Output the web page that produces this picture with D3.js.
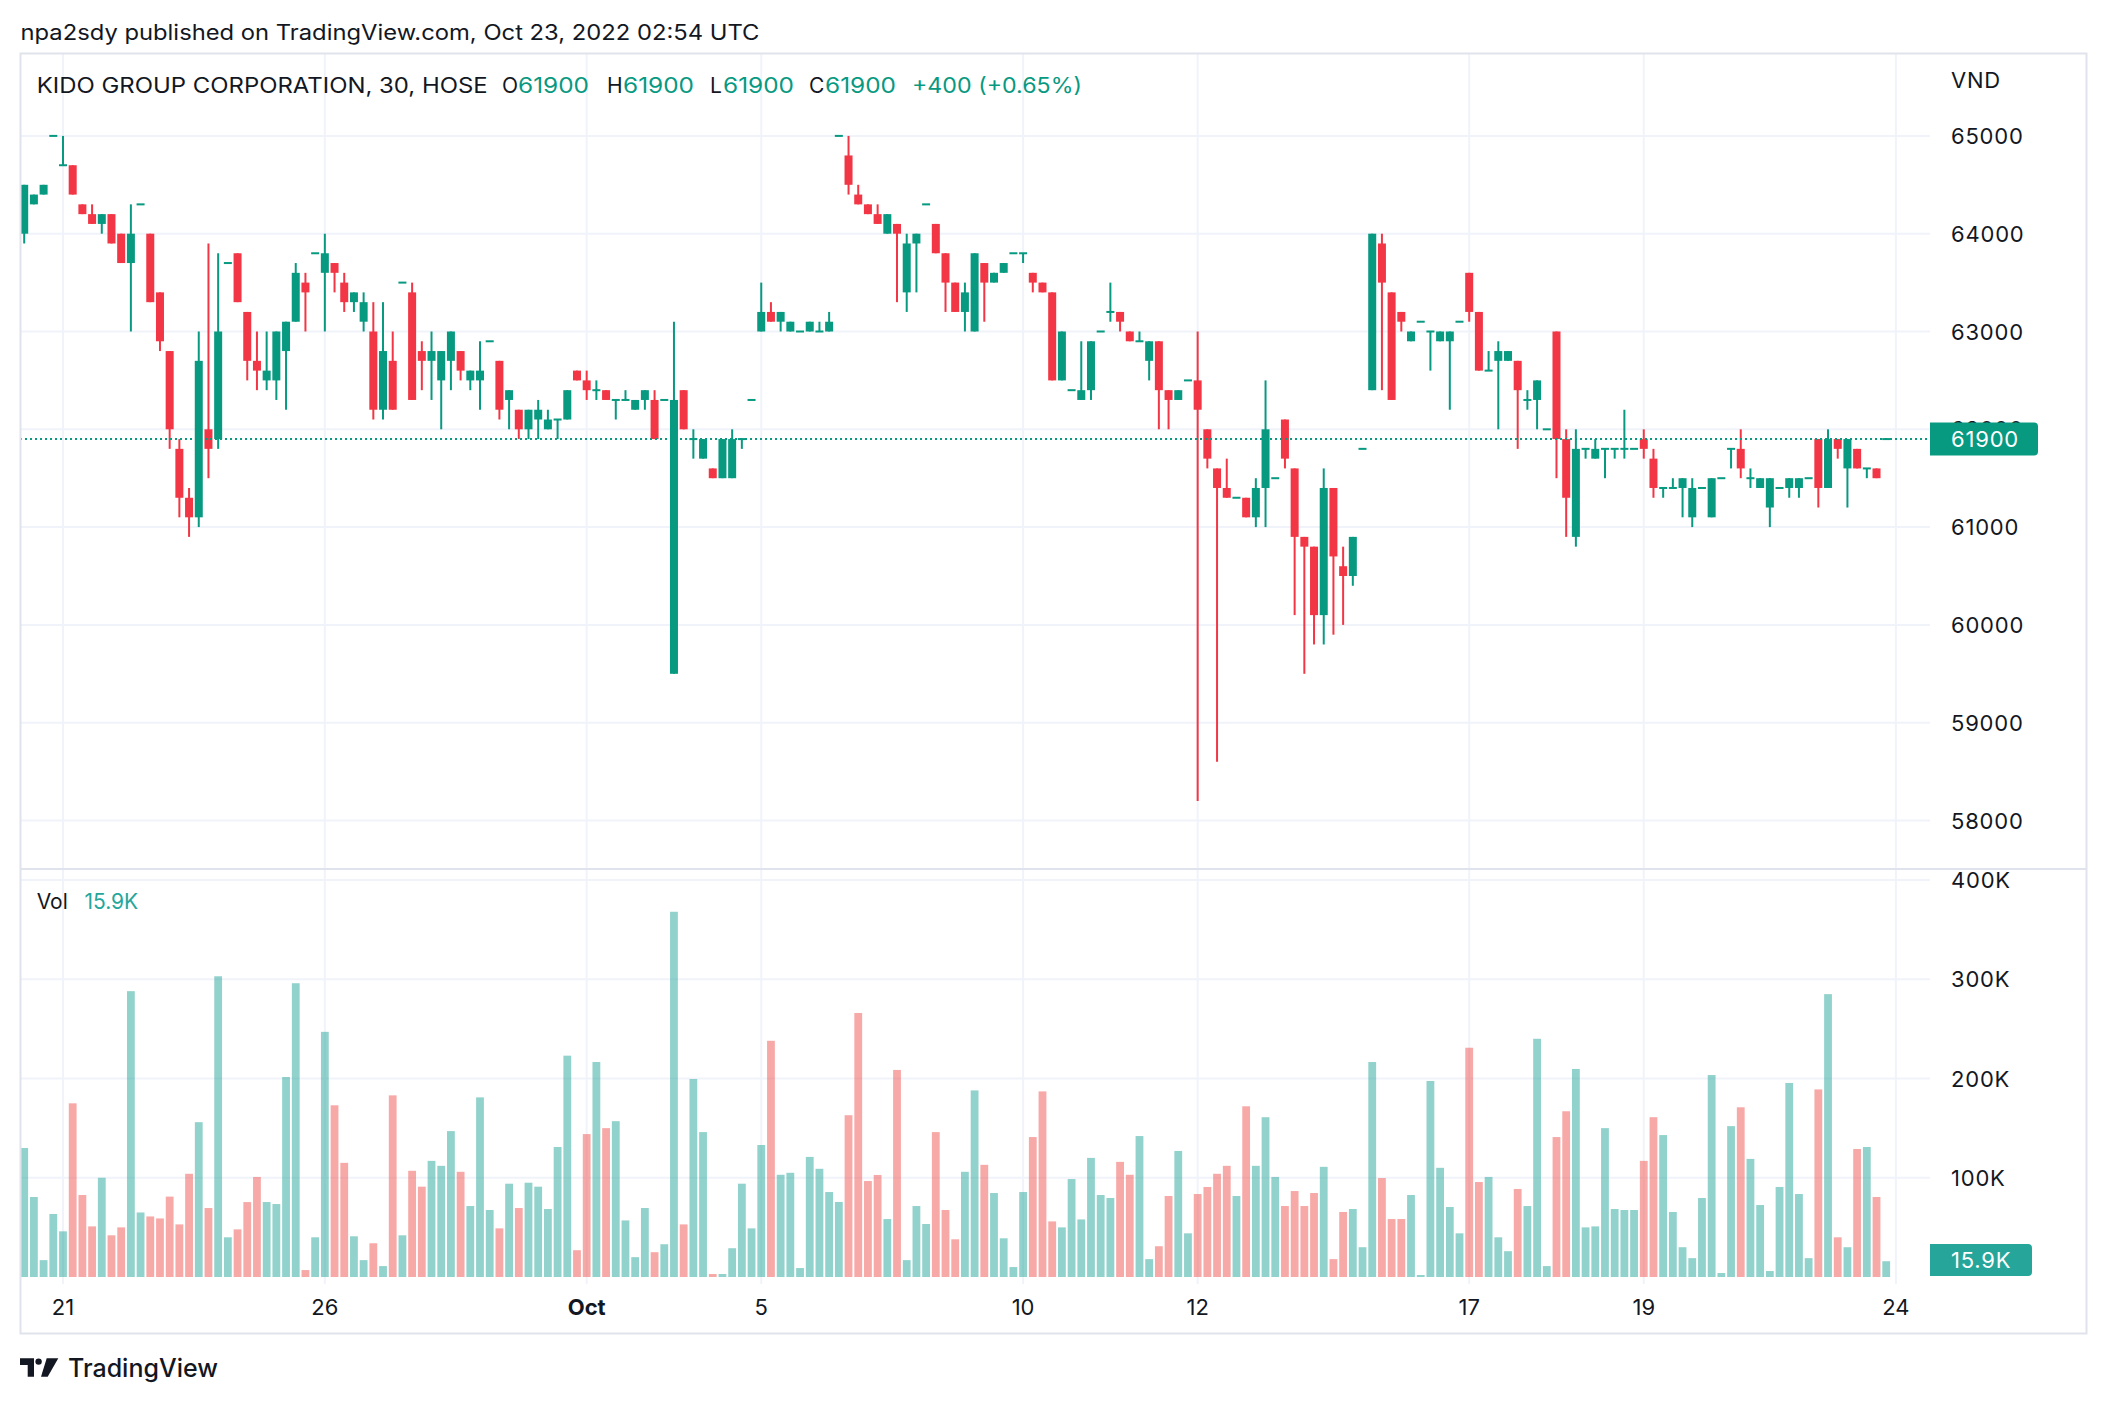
<!DOCTYPE html>
<html>
<head>
<meta charset="utf-8">
<script src="https://cdn.jsdelivr.net/npm/d3@7"></script>
<style>
  html, body { margin: 0; padding: 0; background: #fff; }
  svg { display: block; }
  text { font-family: Inter, "Noto Sans", sans-serif; fill: #131722; }
</style>
</head>
<body>
<svg id="chart" width="2106" height="1404"></svg>
<script>
(function () {
  "use strict";

  // KIDO (KDC) 30-minute bars, Sep 20 - Oct 21 2022
  const opens = [
    64000, 64300, 64400, 65000, 64700, 64700, 64300, 64200, 64100, 64200, 64000, 63700, 64300, 64000, 63400, 62800, 61800, 61300, 61100, 62000,
    61900, 63700, 63800, 63200, 62700, 62500, 62500, 62800, 63100, 63500, 63800, 63600, 63700, 63500, 63300, 63100, 63000, 62200, 62700, 63500,
    63400, 62800, 62700, 62500, 62700, 62800, 62500, 62500, 62900, 62700, 62300, 62200, 62000, 62100, 62000, 62100, 62100, 62600, 62500, 62400,
    62400, 62300, 62300, 62200, 62300, 62300, 62300, 59500, 62400, 61900, 61700, 61600, 61500, 61500, 61900, 62300, 63000, 63200, 63100, 63000,
    63000, 63000, 63000, 63000, 65000, 64800, 64400, 64300, 64200, 64000, 64100, 63400, 63900, 64300, 64100, 63800, 63500, 63200, 63000, 63700,
    63500, 63600, 63800, 63800, 63600, 63500, 63400, 62500, 62400, 62300, 62400, 63000, 63200, 63200, 63000, 62900, 62700, 62900, 62400, 62300,
    62500, 62500, 62000, 61600, 61400, 61300, 61300, 61100, 61400, 61500, 62100, 61600, 60900, 60800, 60100, 61400, 60600, 60500, 61800, 62400,
    63900, 63400, 63200, 62900, 63100, 63000, 62900, 62900, 63100, 63600, 63200, 62600, 62700, 62700, 62700, 62300, 62300, 62000, 63000, 61900,
    60900, 61800, 61700, 61800, 61800, 61800, 61800, 61900, 61700, 61400, 61400, 61400, 61100, 61400, 61100, 61500, 61800, 61800, 61500, 61400,
    61200, 61400, 61400, 61400, 61500, 61900, 61400, 61900, 61600, 61800, 61600, 61600, 61900
  ];
  const highs = [
    64500, 64400, 64500, 65000, 65000, 64700, 64300, 64300, 64200, 64200, 64000, 64300, 64300, 64000, 63400, 62800, 61900, 61400, 63000, 63900,
    63800, 63700, 63800, 63200, 63000, 63000, 63000, 63100, 63700, 63600, 63800, 64000, 63700, 63600, 63400, 63400, 63300, 63300, 63000, 63500,
    63500, 62900, 63000, 62800, 63000, 62800, 62600, 62900, 62900, 62700, 62400, 62200, 62200, 62300, 62200, 62100, 62400, 62600, 62600, 62500,
    62400, 62300, 62400, 62300, 62400, 62400, 62300, 63100, 62400, 62000, 61900, 61600, 61900, 62000, 61900, 62300, 63500, 63300, 63200, 63100,
    63000, 63100, 63100, 63200, 65000, 65000, 64500, 64300, 64300, 64200, 64100, 64000, 64000, 64300, 64100, 63800, 63500, 63500, 63800, 63700,
    63600, 63700, 63800, 63800, 63600, 63500, 63400, 63000, 62400, 62900, 62900, 63000, 63500, 63200, 63000, 63000, 62900, 62900, 62400, 62400,
    62500, 63000, 62000, 61600, 61700, 61300, 61300, 61500, 62500, 61500, 62100, 61600, 60900, 60800, 61600, 61400, 60800, 60900, 61800, 64000,
    64000, 63400, 63200, 63000, 63100, 63000, 63000, 63000, 63100, 63600, 63200, 62800, 62900, 62800, 62700, 62400, 62500, 62000, 63000, 62000,
    62000, 61800, 61900, 61800, 61800, 62200, 61800, 62000, 61800, 61400, 61500, 61500, 61500, 61400, 61500, 61500, 61800, 62000, 61600, 61500,
    61500, 61400, 61500, 61500, 61500, 61900, 62000, 61900, 61900, 61800, 61600, 61600, 61900
  ];
  const lows = [
    63900, 64300, 64400, 65000, 64700, 64400, 64200, 64100, 64000, 63900, 63700, 63000, 64300, 63300, 62800, 61800, 61100, 60900, 61000, 61500,
    61800, 63700, 63300, 62500, 62400, 62400, 62300, 62200, 63100, 63000, 63800, 63000, 63400, 63200, 63200, 63000, 62100, 62100, 62200, 63500,
    62300, 62400, 62300, 62000, 62400, 62500, 62400, 62200, 62900, 62100, 62000, 61900, 61900, 61900, 62000, 61900, 62100, 62500, 62300, 62300,
    62300, 62100, 62300, 62200, 62200, 61900, 62300, 59500, 62000, 61700, 61700, 61500, 61500, 61500, 61800, 62300, 63000, 63100, 63000, 63000,
    63000, 63000, 63000, 63000, 65000, 64400, 64300, 64200, 64100, 64000, 63300, 63200, 63400, 64300, 63800, 63200, 63200, 63000, 63000, 63100,
    63500, 63600, 63800, 63700, 63400, 63400, 62500, 62500, 62400, 62300, 62300, 63000, 63100, 63000, 62900, 62900, 62500, 62000, 62000, 62300,
    62500, 58200, 61600, 58600, 61300, 61300, 61100, 61000, 61000, 61500, 61600, 60100, 59500, 59800, 59800, 59900, 60000, 60400, 61800, 62400,
    62400, 62300, 63000, 62900, 63100, 62600, 62900, 62200, 63100, 63100, 62600, 62600, 62000, 62700, 61800, 62200, 62000, 62000, 61500, 60900,
    60800, 61700, 61700, 61500, 61700, 61700, 61800, 61700, 61300, 61300, 61400, 61100, 61000, 61400, 61100, 61500, 61600, 61500, 61400, 61400,
    61000, 61400, 61300, 61300, 61500, 61200, 61400, 61700, 61200, 61600, 61500, 61500, 61900
  ];
  const closes = [
    64500, 64400, 64500, 65000, 64700, 64400, 64200, 64100, 64200, 63900, 63700, 64000, 64300, 63300, 62900, 62000, 61300, 61100, 62700, 61800,
    63000, 63700, 63300, 62700, 62600, 62600, 63000, 63100, 63600, 63400, 63800, 63800, 63600, 63300, 63400, 63300, 62200, 62800, 62200, 63500,
    62300, 62700, 62800, 62800, 63000, 62600, 62600, 62600, 62900, 62200, 62400, 62000, 62200, 62200, 62100, 62100, 62400, 62500, 62400, 62400,
    62300, 62300, 62300, 62300, 62400, 61900, 62300, 62300, 62000, 61900, 61900, 61500, 61900, 61900, 61900, 62300, 63200, 63100, 63200, 63100,
    63000, 63100, 63000, 63100, 65000, 64500, 64300, 64200, 64100, 64200, 64000, 63900, 64000, 64300, 63800, 63500, 63200, 63400, 63800, 63500,
    63600, 63700, 63800, 63800, 63500, 63400, 62500, 63000, 62400, 62400, 62900, 63000, 63200, 63100, 62900, 62900, 62900, 62400, 62300, 62400,
    62500, 62200, 61700, 61400, 61300, 61300, 61100, 61400, 62000, 61500, 61700, 60900, 60800, 60100, 61400, 60700, 60500, 60900, 61800, 64000,
    63500, 62300, 63100, 63000, 63100, 63000, 63000, 63000, 63100, 63200, 62600, 62600, 62800, 62800, 62400, 62300, 62500, 62000, 61900, 61300,
    61800, 61800, 61800, 61800, 61800, 61800, 61800, 61800, 61400, 61400, 61400, 61500, 61400, 61400, 61500, 61500, 61800, 61600, 61500, 61500,
    61500, 61400, 61500, 61500, 61500, 61400, 61900, 61800, 61900, 61600, 61600, 61500, 61900
  ];
  // volume, thousands of shares
  const volumes = [
    130, 80.6, 17, 63.5, 46, 175, 82.6, 51, 100, 42, 50, 288, 65, 61, 59, 81, 53, 104, 156, 69.5,
    303, 40, 48, 75.5, 100.8, 75.5, 73.5, 201.5, 296, 7, 40, 247, 173, 115, 41, 17, 34, 11, 183, 42,
    107, 91, 117, 112, 147, 106, 71.5, 181, 67.5, 49, 94, 69.5, 95, 91, 68.5, 131, 223, 27, 144, 216.6,
    150, 157, 57, 20, 69.5, 25, 33, 368, 53, 199.5, 146, 3, 3, 29, 94, 49, 133, 238, 103, 105,
    9, 121, 109, 85.6, 75.6, 163, 266, 96.7, 102.8, 58.4, 208.6, 17, 71.5, 53.4, 146, 67.5, 38, 106, 188, 113,
    84.6, 39, 10, 85.6, 141, 187, 56, 50, 98.7, 58, 120, 82.6, 79.6, 116, 103, 142, 18, 31, 81.6, 127,
    44, 83.6, 90.7, 104, 112, 81.6, 172, 112, 161, 100.8, 71.5, 86.6, 71.5, 84.6, 111, 18, 65.5, 68.5, 30, 216.6,
    99.7, 58.4, 58.4, 82.6, 2, 197.5, 110, 70.5, 44, 231, 95.7, 100.8, 40, 26, 88.7, 71.5, 240, 11, 141, 167,
    209.6, 50, 51, 150, 68.5, 67.5, 67.5, 117, 161, 143, 65.5, 30, 19, 79.6, 203.5, 4, 152, 171, 119, 72.5,
    6, 90.7, 195.5, 83.6, 19, 189, 285, 40, 30, 129, 131, 80.6, 15.9
  ];

  const priceTicks = [65000, 64000, 63000, 62000, 61000, 60000, 59000, 58000];
  const volumeTicks = [400000, 300000, 200000, 100000];
  const volumeTickLabels = ["400K", "300K", "200K", "100K"];
  const dayTickIndex = [4, 31, 58, 76, 103, 121, 149, 167, 193];
  const dayTickLabel = ["21", "26", "Oct", "5", "10", "12", "17", "19", "24"];
  const lastPrice = 61900;
  const lastVolumeLabel = "15.9K";

  const UP = "#089981", DOWN = "#f23645";
  const VOL_UP = "rgba(38,166,154,0.5)", VOL_DOWN = "rgba(239,83,80,0.5)";
  const GRID = "#f0f3fa", BORDER = "#e0e3eb";

  const left = 20, plotRight = 1930, frameRight = 2086;
  const top = 54, sep = 869, volBottom = 1284, frameBottom = 1334;
  const axisX = 1951;

  const bars = opens.map((o, i) => ({
    i, o, h: highs[i], l: lows[i], c: closes[i], v: volumes[i] * 1000, up: closes[i] >= o
  }));

  const x = d3.scaleLinear().domain([0, 193]).range([24.2, 24.2 + 9.698 * 193]);
  const y = d3.scaleLinear().domain([58000, 65000]).range([820.5, 135.9]);
  const yv = d3.scaleLinear().domain([0, 400000]).range([1277, 880]);

  const svg = d3.select("#chart");
  svg.append("rect").attr("width", 2106).attr("height", 1404).attr("fill", "#fff");

  // grid
  const grid = svg.append("g").attr("stroke", GRID).attr("stroke-width", 2);
  grid.selectAll("line.hp").data(priceTicks).join("line")
    .attr("x1", left).attr("x2", plotRight)
    .attr("y1", (d) => y(d)).attr("y2", (d) => y(d));
  grid.selectAll("line.hv").data(volumeTicks).join("line")
    .attr("x1", left).attr("x2", plotRight)
    .attr("y1", (d) => yv(d)).attr("y2", (d) => yv(d));
  grid.selectAll("line.vt").data(dayTickIndex).join("line")
    .attr("x1", (d) => x(d)).attr("x2", (d) => x(d))
    .attr("y1", top).attr("y2", volBottom);

  // volume bars
  svg.append("g").selectAll("rect").data(bars).join("rect")
    .attr("x", (d) => x(d.i) - 3.9).attr("width", 7.8)
    .attr("y", (d) => yv(d.v)).attr("height", (d) => yv(0) - yv(d.v))
    .attr("fill", (d) => (d.up ? VOL_UP : VOL_DOWN));

  // candles
  const candles = svg.append("g").selectAll("g").data(bars).join("g");
  candles.append("line")
    .attr("x1", (d) => x(d.i)).attr("x2", (d) => x(d.i))
    .attr("y1", (d) => y(d.h)).attr("y2", (d) => y(d.l))
    .attr("stroke", (d) => (d.up ? UP : DOWN)).attr("stroke-width", 2);
  candles.append("rect")
    .attr("x", (d) => x(d.i) - 4).attr("width", 8)
    .attr("y", (d) => Math.min(y(d.o), y(d.c)) - (d.o === d.c ? 1 : 0))
    .attr("height", (d) => Math.max(2, Math.abs(y(d.o) - y(d.c))))
    .attr("fill", (d) => (d.up ? UP : DOWN));

  // last price line
  svg.append("line")
    .attr("x1", left).attr("x2", plotRight)
    .attr("y1", y(lastPrice)).attr("y2", y(lastPrice))
    .attr("stroke", UP).attr("stroke-width", 2).attr("stroke-dasharray", "2,3");

  // frame and pane separator
  svg.append("rect")
    .attr("x", left + 0.5).attr("y", top - 0.5)
    .attr("width", frameRight - left).attr("height", frameBottom - top)
    .attr("fill", "none").attr("stroke", BORDER).attr("stroke-width", 2);
  svg.append("line").attr("x1", left).attr("x2", frameRight)
    .attr("y1", sep).attr("y2", sep).attr("stroke", BORDER).attr("stroke-width", 2);

  // price axis (62000 sits mostly under the last-price tag, as in the original)
  const axisFont = 22;
  const pAxis = svg.append("g").attr("font-size", axisFont).attr("letter-spacing", 0.8);
  pAxis.selectAll("text").data(priceTicks).join("text")
    .attr("x", axisX).attr("y", (d) => y(d) + 8).text((d) => d);
  pAxis.append("text").attr("x", axisX).attr("y", 88).text("VND");

  const vAxis = svg.append("g").attr("font-size", axisFont).attr("letter-spacing", 0.8);
  vAxis.selectAll("text").data(volumeTicks).join("text")
    .attr("x", axisX).attr("y", (d) => yv(d) + 8)
    .text((d, i) => volumeTickLabels[i]);

  function tagPath(x0, y0, w, h, r) {
    return `M${x0},${y0}H${x0 + w - r}Q${x0 + w},${y0} ${x0 + w},${y0 + r}V${y0 + h - r}Q${x0 + w},${y0 + h} ${x0 + w - r},${y0 + h}H${x0}Z`;
  }
  const py = y(lastPrice);
  svg.append("path").attr("d", tagPath(plotRight, py - 16.5, 108, 33, 4)).attr("fill", UP);
  svg.append("text").attr("x", axisX).attr("y", py + 8).attr("font-size", axisFont)
    .attr("letter-spacing", 0.8).style("fill", "#fff").text(lastPrice);

  svg.append("path").attr("d", tagPath(plotRight, 1244, 102, 32, 4)).attr("fill", "#26a69a");
  svg.append("text").attr("x", axisX).attr("y", 1244 + 24).attr("font-size", axisFont)
    .attr("letter-spacing", 0.8).style("fill", "#fff").text(lastVolumeLabel);

  // time axis
  svg.append("g").attr("font-size", 22).attr("text-anchor", "middle")
    .selectAll("text").data(dayTickIndex).join("text")
    .attr("x", (d) => x(d)).attr("y", 1315)
    .attr("font-weight", (d, i) => (dayTickLabel[i] === "Oct" ? 700 : 400))
    .text((d, i) => dayTickLabel[i]);

  // header and legends
  svg.append("text").attr("x", 20.5).attr("y", 40).attr("font-size", 21)
    .attr("textLength", 739).attr("lengthAdjust", "spacingAndGlyphs")
    .text("npa2sdy published on TradingView.com, Oct 23, 2022 02:54 UTC");

  const legend = svg.append("g").attr("font-size", 21);
  legend.append("text").attr("x", 36.7).attr("y", 93)
    .attr("textLength", 451).attr("lengthAdjust", "spacingAndGlyphs")
    .text("KIDO GROUP CORPORATION, 30, HOSE");
  const ohlc = [["O", 502, 518], ["H", 607, 623], ["L", 710, 723], ["C", 809, 825]];
  ohlc.forEach(([k, kx, vx]) => {
    legend.append("text").attr("x", kx).attr("y", 93).text(k);
    legend.append("text").attr("x", vx).attr("y", 93).attr("textLength", 71)
      .attr("lengthAdjust", "spacingAndGlyphs").style("fill", UP).text(lastPrice);
  });
  legend.append("text").attr("x", 912).attr("y", 93).attr("textLength", 170)
    .attr("lengthAdjust", "spacingAndGlyphs").style("fill", UP).text("+400 (+0.65%)");

  const volLegend = svg.append("g").attr("font-size", 21);
  volLegend.append("text").attr("x", 36.7).attr("y", 909).text("Vol");
  volLegend.append("text").attr("x", 84.4).attr("y", 909).style("fill", "#26a69a").text(lastVolumeLabel);

  // TradingView logo
  const logo = svg.append("g").attr("fill", "#131722");
  logo.append("path").attr("d", "M20,1358.3H34V1376.7H27.7V1365H20Z");
  logo.append("circle").attr("cx", 38.6).attr("cy", 1361.6).attr("r", 3.2);
  logo.append("path").attr("d", "M46.7,1358.3H58.3L47.7,1376.7H41Z");
  svg.append("text").attr("x", 68).attr("y", 1376.7).attr("font-size", 25)
    .attr("font-weight", 500).text("TradingView");
})();
</script>
</body>
</html>
